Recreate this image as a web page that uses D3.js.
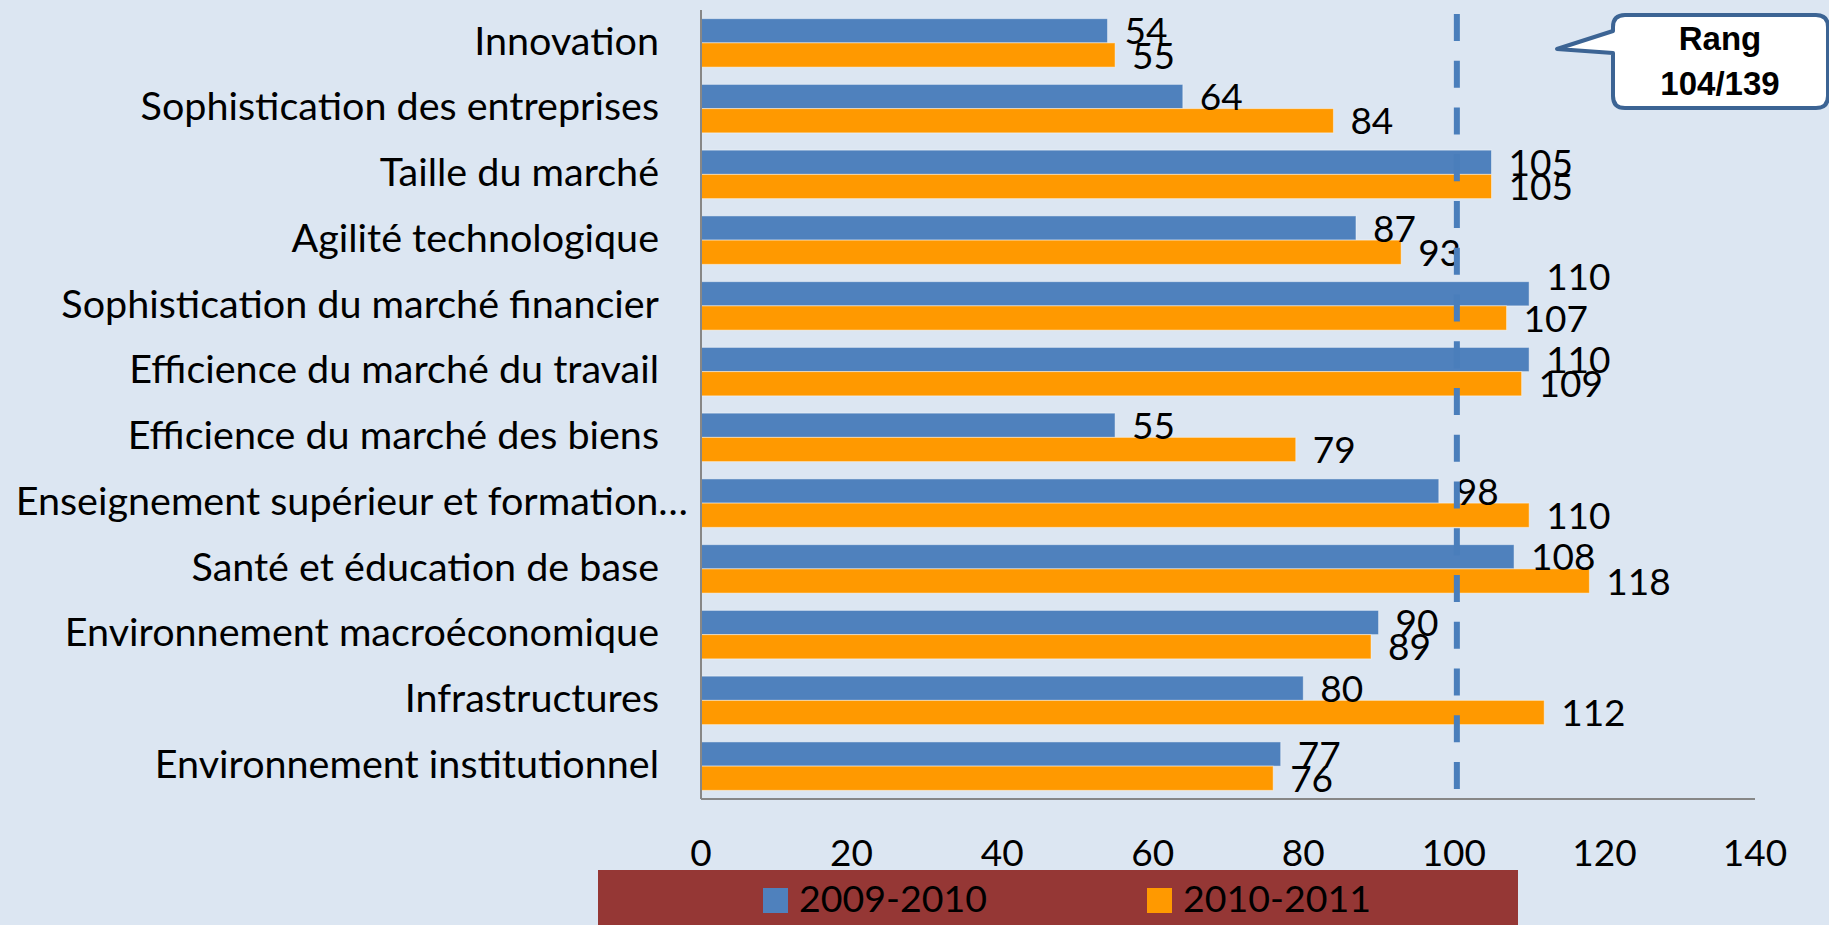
<!DOCTYPE html>
<html>
<head>
<meta charset="utf-8">
<script src="https://cdnjs.cloudflare.com/ajax/libs/d3/7.8.5/d3.min.js"></script>
<style>
  html, body { margin: 0; padding: 0; background: #dce6f2; }
  svg { display: block; }
  text { font-family: Lato, "Open Sans", sans-serif; fill: #000; }
</style>
</head>
<body>
<div id="chart-body"></div>
<script>
var categories = [
  'Innovation',
  'Sophistication des entreprises',
  'Taille du marché',
  'Agilité technologique',
  'Sophistication du marché financier',
  'Efficience du marché du travail',
  'Efficience du marché des biens',
  'Enseignement supérieur et formation…',
  'Santé et éducation de base',
  'Environnement macroéconomique',
  'Infrastructures',
  'Environnement institutionnel'];

var seriesNames = ['2009-2010', '2010-2011'];
var values2009 = [54, 64, 105, 87, 110, 110, 55, 98, 108, 90, 80, 77];
var values2010 = [55, 84, 105, 93, 107, 109, 79, 110, 118, 89, 112, 76];
var xTicks = [0, 20, 40, 60, 80, 100, 120, 140];
var rankLine = 100;
var rankText = ['Rang', '104/139'];

var colors = ['#4f81bd', '#ff9900'];

var width = 1829;
var height = 925;
var plot = { left: 701, right: 1755, top: 10, bottom: 799 };

var svg = d3.select('#chart-body').append('svg').
attr('width', width).
attr('height', height);

svg.append('rect').
attr('width', width).
attr('height', height).
attr('fill', '#dce6f2');

var x = d3.scaleLinear().domain([0, 140]).range([plot.left, plot.right]);
var y = d3.scaleBand().domain(categories).range([plot.top, plot.bottom]).
paddingInner(0.263).paddingOuter(0.1315);
var ySub = d3.scaleBand().domain(seriesNames).range([0, y.bandwidth()]);

var rows = categories.map(function (c, i) {
  return { name: c, values: [values2009[i], values2010[i]] };
});

// bars
var groups = svg.selectAll('g.row').
data(rows).
enter().
append('g').
attr('class', 'row').
attr('transform', function (d) {return 'translate(0,' + y(d.name) + ')';});

groups.selectAll('rect').
data(function (d) {return d.values.map(function (v, j) {return { v: v, s: seriesNames[j], j: j, name: d.name };});}).
enter().
append('rect').
attr('x', x(0)).
attr('y', function (d) {return ySub(d.s);}).
attr('width', function (d) {return x(d.v) - x(0);}).
attr('height', ySub.bandwidth()).
attr('fill', function (d) {return colors[d.j];}).
attr('stroke', 'rgba(255,255,255,0.45)').
attr('stroke-width', 1);

// value labels (the first 110 was nudged up in the original to clear 107)
groups.selectAll('text.val').
data(function (d) {return d.values.map(function (v, j) {return { v: v, s: seriesNames[j], j: j, name: d.name };});}).
enter().
append('text').
attr('class', 'val').
attr('x', function (d) {return x(d.v) + 17;}).
attr('y', function (d) {
  var nudge = d.name === 'Sophistication du marché financier' && d.j === 0 ? -17 : 0;
  return ySub(d.s) + ySub.bandwidth() / 2 + nudge;
}).
attr('dy', '0.37em').
style('font-size', '37px').
text(function (d) {return d.v;});

// axis lines
svg.append('line').
attr('x1', x(0)).attr('x2', x(0)).
attr('y1', plot.top).attr('y2', plot.bottom).
attr('stroke', '#878787').attr('stroke-width', 2);

svg.append('line').
attr('x1', x(0)).attr('x2', x(140)).
attr('y1', plot.bottom).attr('y2', plot.bottom).
attr('stroke', '#878787').attr('stroke-width', 2);

// category labels
svg.selectAll('text.cat').
data(categories).
enter().
append('text').
attr('class', 'cat').
attr('x', function (d) {return d.slice(-1) === '…' ? x(0) - 13 : x(0) - 42;}).
attr('y', function (d) {return y(d) + y.bandwidth() / 2;}).
attr('dy', '0.3em').
attr('text-anchor', 'end').
style('font-size', '39.5px').
text(function (d) {return d;});

// x tick labels
svg.selectAll('text.tick').
data(xTicks).
enter().
append('text').
attr('class', 'tick').
attr('x', function (d) {return x(d);}).
attr('y', 866).
attr('text-anchor', 'middle').
style('font-size', '37px').
text(function (d) {return d;});

// rank line
svg.append('line').
attr('x1', x(rankLine) + 3).attr('x2', x(rankLine) + 3).
attr('y1', 14).attr('y2', 789).
attr('stroke', '#4a7ebb').
attr('stroke-width', 6).
attr('stroke-dasharray', '27 19.75');

// legend
svg.append('rect').
attr('x', 598).attr('y', 870).
attr('width', 920).attr('height', 55).
attr('fill', '#953735');

var legendX = [763, 1147];
seriesNames.forEach(function (s, i) {
  svg.append('rect').
  attr('x', legendX[i]).attr('y', 888).
  attr('width', 25).attr('height', 25).
  attr('fill', colors[i]);

  svg.append('text').
  attr('x', legendX[i] + 36).
  attr('y', 912).
  style('font-size', '37.5px').
  text(s);
});

// callout
svg.append('path').
attr('d', 'M1625,15 H1816 Q1828,15 1828,27 V96 Q1828,108 1816,108 H1625 Q1613,108 1613,96 V53 L1557,49 L1613,31 V27 Q1613,15 1625,15 Z').
attr('fill', '#fff').
attr('stroke', '#3c6494').
attr('stroke-width', 4).
attr('stroke-linejoin', 'round');

svg.selectAll('text.rank').
data(rankText).
enter().
append('text').
attr('class', 'rank').
attr('x', 1720).
attr('y', function (d, i) {return 50 + i * 45;}).
attr('text-anchor', 'middle').
style('font-family', '"Liberation Sans", Arial, sans-serif').
style('font-weight', 'bold').
style('font-size', '33px').
text(function (d) {return d;});
</script>
</body>
</html>
